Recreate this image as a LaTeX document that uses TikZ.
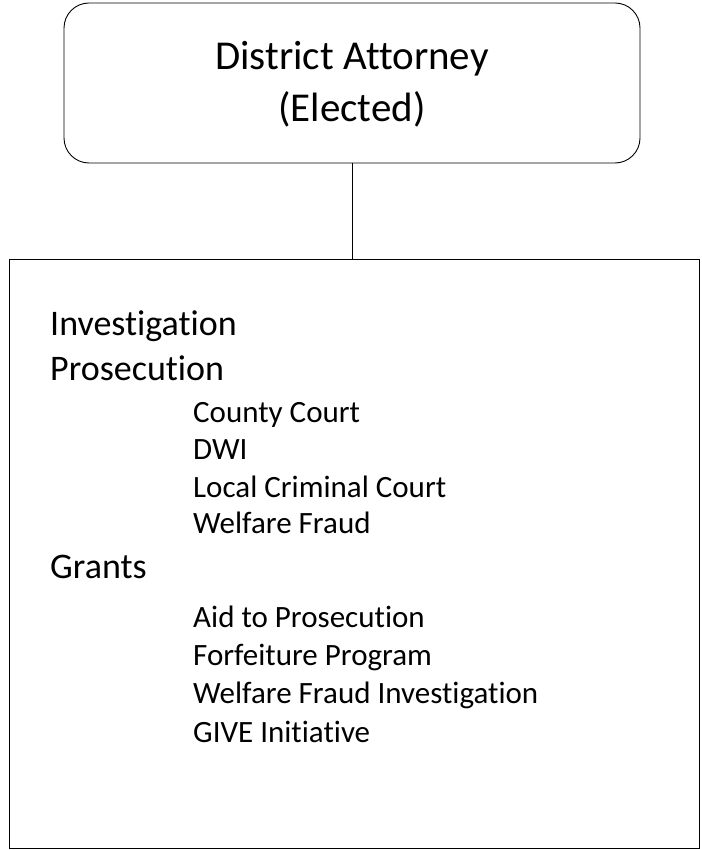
\documentclass[tikz,border=0pt]{standalone}
\usepackage{fontspec}
\setmainfont[Ligatures=NoCommon]{Carlito}
\begin{document}
\begin{tikzpicture}[x=1pt, y=-1pt,
  box/.style={draw, line width=0.9pt, inner sep=0pt},
  head/.style={anchor=base west, inner sep=0pt, font=\fontsize{36}{40}\selectfont},
  item/.style={anchor=base west, inner sep=0pt, font=\fontsize{31}{35}\selectfont}]
  \useasboundingbox (0,0) rectangle (701,850);
  \node (da) [box, rounded corners=25pt, minimum width=576pt, minimum height=160pt, align=center, text depth=4pt, font=\fontsize{41}{52}\selectfont] at (352,83) {District Attorney\\(Elected)};
  \node (dept) [box, minimum width=690pt, minimum height=589pt] at (354,553.5) {};
  \draw [line width=0.9pt] (da.south) -- (da.south |- dept.north);
  \node (inv) [head] at (50,335) {Investigation};
  \node (pros) [head] at (50,380) {Prosecution};
  \node (cc) [item] at (193,422) {County Court};
  \node (dwi) [item] at (193,459) {DWI};
  \node (lcc) [item] at (193,497) {Local Criminal Court};
  \node (wf) [item] at (193,533) {Welfare Fraud};
  \node (grants) [head] at (50,578) {Grants};
  \node (aid) [item] at (193,627) {Aid to Prosecution};
  \node (forf) [item] at (193,665) {Forfeiture Program};
  \node (wfi) [item] at (193,703) {Welfare Fraud Investigation};
  \node (give) [item] at (193,742) {GIVE Initiative};
\end{tikzpicture}
\end{document}
